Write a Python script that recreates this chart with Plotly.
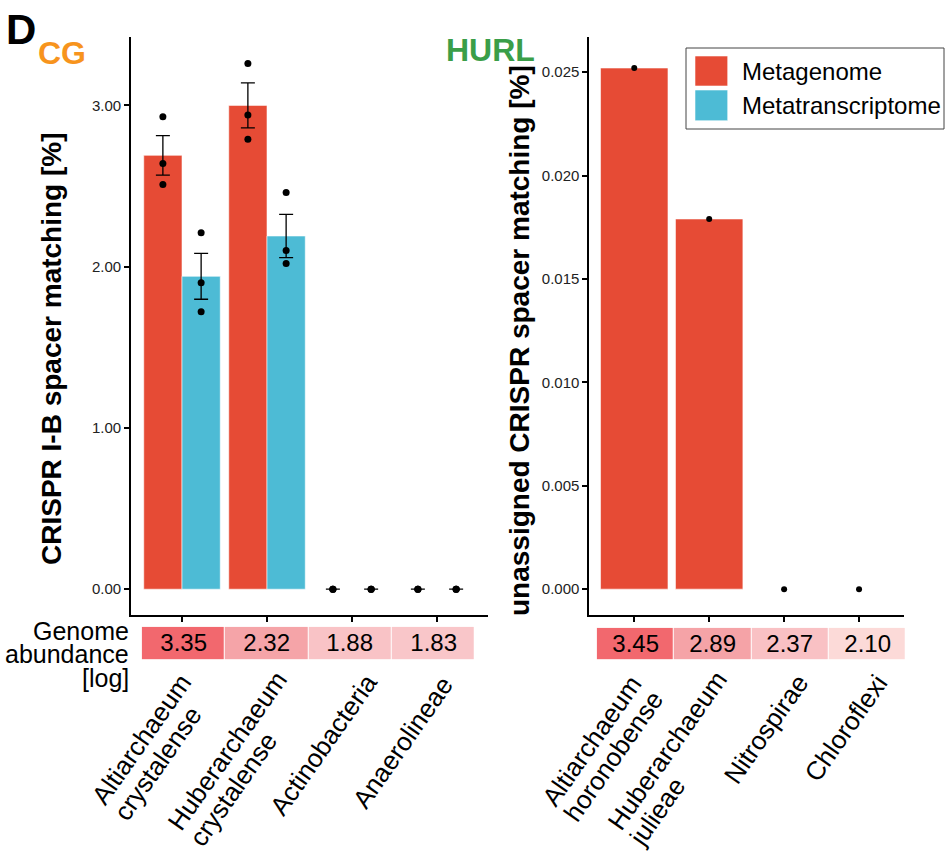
import math
import plotly.graph_objects as go

# ---- data -------------------------------------------------------------
cg_taxa = [["Altiarchaeum", "crystalense"], ["Huberarchaeum", "crystalense"],
           ["Actinobacteria"], ["Anaerolineae"]]
cg_metagenome_mean = [2.69, 3.00, 0.0, 0.0]
cg_metagenome_se = [0.123, 0.139, 0.0, 0.0]
cg_metatranscriptome_mean = [1.94, 2.19, 0.0, 0.0]
cg_metatranscriptome_se = [0.142, 0.134, 0.0, 0.0]
cg_metagenome_reps = [[2.93, 2.64, 2.51], [3.26, 2.94, 2.79], [0.0, 0.0, 0.0], [0.0, 0.0, 0.0]]
cg_metatranscriptome_reps = [[2.21, 1.90, 1.72], [2.46, 2.10, 2.02], [0.0, 0.0, 0.0], [0.0, 0.0, 0.0]]
cg_abundance = [3.35, 2.32, 1.88, 1.83]

hurl_taxa = [["Altiarchaeum", "horonobense"], ["Huberarchaeum", "julieae"],
             ["Nitrospirae"], ["Chloroflexi"]]
hurl_metagenome = [0.0252, 0.0179, 0.0, 0.0]
hurl_abundance = [3.45, 2.89, 2.37, 2.10]

cg_ticks = [0.0, 1.0, 2.0, 3.0]
hurl_ticks = [0.0, 0.005, 0.010, 0.015, 0.020, 0.025]

# ---- style ------------------------------------------------------------
W, H = 951, 852
FONT = "Liberation Sans, Arial, sans-serif"
RED = "#E64B35"
BLUE = "#4DBBD5"
DODGE = 0.225
LABEL_SIZE = 26
LABEL_ANGLE = 55
LINE_STEP = 27
# (horizontal shift from the tick, top in px) of the end of each label's first line
cg_label_anchor = [(-8.5, 669), (1.5, 666), (6.5, 669), (-2, 671)]
hurl_label_anchor = [(-11, 670.5), (-1, 666), (6, 669), (10, 669)]

# Arial advance widths (1/1000 em) for the glyphs used in the taxon labels
GLYPH_W = {"A": 667, "C": 722, "H": 722, "N": 722, "a": 556, "b": 556, "c": 500,
           "e": 556, "f": 278, "h": 556, "i": 222, "j": 222, "l": 222, "m": 833,
           "n": 556, "o": 556, "p": 556, "r": 333, "s": 500, "t": 278, "u": 556,
           "x": 500, "y": 500}


def text_px(s, size):
    return sum(GLYPH_W.get(c, 556) for c in s) * size / 1000


def fx(p):
    return p / W


def fy(p):
    return 1 - p / H


def scale(z, colors):
    lo, hi = min(z), max(z)
    pairs = sorted(zip(z, colors))
    return [[(v - lo) / (hi - lo), c] for v, c in pairs]


idx = list(range(len(cg_taxa)))
hidx = list(range(len(hurl_taxa)))
fig = go.Figure()

# left panel: CG bars with standard errors
bar_edge = dict(color="rgba(255,255,255,0.7)", width=0.8)
fig.add_trace(go.Bar(
    x=idx, y=cg_metagenome_mean, name="Metagenome", marker_color=RED, marker_line=bar_edge,
    error_y=dict(type="data", array=cg_metagenome_se, color="black", thickness=1.3, width=7),
    xaxis="x", yaxis="y"))
fig.add_trace(go.Bar(
    x=idx, y=cg_metatranscriptome_mean, name="Metatranscriptome", marker_color=BLUE,
    marker_line=bar_edge,
    error_y=dict(type="data", array=cg_metatranscriptome_se, color="black", thickness=1.3, width=7),
    xaxis="x", yaxis="y"))

for reps, off in ((cg_metagenome_reps, -DODGE), (cg_metatranscriptome_reps, DODGE)):
    xs, ys = [], []
    for i, r in zip(idx, reps):
        xs += [i + off] * len(r)
        ys += r
    fig.add_trace(go.Scatter(x=xs, y=ys, mode="markers",
                             marker=dict(color="black", size=7),
                             xaxis="x", yaxis="y", showlegend=False))

# right panel: HURL bars
fig.add_trace(go.Bar(
    x=hidx, y=hurl_metagenome, marker_color=RED, marker_line=bar_edge,
    xaxis="x2", yaxis="y2", showlegend=False))
fig.add_trace(go.Scatter(x=hidx, y=hurl_metagenome, mode="markers",
                         marker=dict(color="black", size=6),
                         xaxis="x2", yaxis="y2", showlegend=False))

# genome abundance strips
cg_colors = ["#F2686E", "#F5A4A8", "#F9C3C6", "#F9C6C9"]
hurl_colors = ["#F2686E", "#F5A3A7", "#F9C1C4", "#FCDAD8"]
for xs, z, cols, xa, ya in ((idx, cg_abundance, cg_colors, "x3", "y3"),
                            (hidx, hurl_abundance, hurl_colors, "x4", "y4")):
    fig.add_trace(go.Heatmap(
        x=xs, y=[0], z=[z], colorscale=scale(z, cols), showscale=False, xgap=1,
        texttemplate="%{z:.2f}", textfont=dict(size=24, color="black", family=FONT),
        hoverinfo="skip", xaxis=xa, yaxis=ya))

axis_common = dict(showline=True, linecolor="black", linewidth=1.8, ticks="outside",
                   ticklen=5, tickwidth=1.5, tickcolor="black", showgrid=False, zeroline=False,
                   automargin=False, tickfont=dict(size=15, color="#222", family=FONT))
hidden = dict(visible=False, automargin=False, showgrid=False, zeroline=False)
bar_top, bar_bottom = 37, 615

fig.update_layout(
    width=W, height=H, margin=dict(l=0, r=0, t=0, b=0, autoexpand=False),
    paper_bgcolor="white", plot_bgcolor="white",
    barmode="group", bargap=0.1, bargroupgap=0,
    showlegend=False, font=dict(family=FONT, color="black"),
    xaxis=dict(domain=[fx(131), fx(488)], range=[-0.6, 3.6], tickvals=idx,
               showticklabels=False, anchor="y", **axis_common),
    yaxis=dict(domain=[fy(bar_bottom), fy(bar_top)], range=[-0.16, 3.424],
               tickvals=cg_ticks, tickformat=".2f", anchor="x", **axis_common),
    xaxis2=dict(domain=[fx(589.3), fx(904)], range=[-0.6, 3.6], tickvals=hidx,
                showticklabels=False, anchor="y2", **axis_common),
    yaxis2=dict(domain=[fy(bar_bottom), fy(bar_top)], range=[-0.00125, 0.0267],
                tickvals=hurl_ticks, tickformat=".3f", anchor="x2", **axis_common),
    xaxis3=dict(domain=[fx(141.7), fx(475)], range=[-0.5, 3.5], anchor="y3", **hidden),
    yaxis3=dict(domain=[fy(659.3), fy(626.7)], anchor="x3", **hidden),
    xaxis4=dict(domain=[fx(596.7), fx(906)], range=[-0.5, 3.5], anchor="y4", **hidden),
    yaxis4=dict(domain=[fy(659.3), fy(627.7)], anchor="x4", **hidden),
)

ann = []
# axis titles
ann.append(dict(text="CRISPR I-B spacer matching [%]", x=fx(51), y=fy(349), textangle=-90,
                font=dict(size=28, weight="bold")))
ann.append(dict(text="unassigned CRISPR spacer matching [%]", x=fx(520), y=fy(341),
                textangle=-90, font=dict(size=28, weight="bold")))
# panel tags
ann.append(dict(text="D", x=fx(21), y=fy(30), font=dict(size=42, weight="bold")))
ann.append(dict(text="CG", x=fx(62), y=fy(53), font=dict(size=32, weight="bold", color="#F7941D")))
ann.append(dict(text="HURL", x=fx(490), y=fy(50), font=dict(size=32, weight="bold", color="#3A9E48")))
# strip label
for line, yc in (("Genome", 631), ("abundance", 654), ("[log]", 678)):
    ann.append(dict(text=line, x=fx(131), y=fy(yc), xanchor="right", font=dict(size=25)))
# legend text
ann.append(dict(text="Metagenome", x=fx(740), y=fy(71), xanchor="left", font=dict(size=24)))
ann.append(dict(text="Metatranscriptome", x=fx(740), y=fy(105.5), xanchor="left",
                font=dict(size=24)))

# rotated taxon labels: lines left-aligned, the end of the first line placed
# just under the strip next to the category tick of the bar axis
a = math.radians(LABEL_ANGLE)
ux, uy = math.cos(a), -math.sin(a)      # along the text
vx, vy = math.sin(a), math.cos(a)       # from one line to the next
box_h = 1.117 * LABEL_SIZE
for labels, anchors, xref in ((cg_taxa, cg_label_anchor, "x"),
                              (hurl_taxa, hurl_label_anchor, "x2")):
    for i, (lines, (dx, top)) in enumerate(zip(labels, anchors)):
        first_w = text_px(lines[0], LABEL_SIZE)
        sx, sy = dx - first_w * ux, top - first_w * uy   # start of first line (top corner)
        for k, line in enumerate(lines):
            w = text_px(line, LABEL_SIZE)
            cx = sx + k * LINE_STEP * vx + w / 2 * ux + box_h / 2 * vx
            cy = sy + k * LINE_STEP * vy + w / 2 * uy + box_h / 2 * vy
            ann.append(dict(text=line, x=i, xref=xref, xshift=cx, y=fy(cy),
                            textangle=-LABEL_ANGLE, borderpad=0, borderwidth=0,
                            font=dict(size=LABEL_SIZE)))

for an in ann:
    an.setdefault("xref", "paper")
    an.setdefault("yref", "paper")
    an.setdefault("showarrow", False)
    an.setdefault("xanchor", "center")
    an.setdefault("yanchor", "middle")
    an["font"].setdefault("family", FONT)
    an["font"].setdefault("color", "black")
fig.update_layout(annotations=ann)

# legend box and keys
shapes = [
    dict(type="rect", x0=fx(686), x1=fx(944), y0=fy(129), y1=fy(48),
         line=dict(color="#444", width=1), fillcolor="white"),
    dict(type="rect", x0=fx(695), x1=fx(727.7), y0=fy(86), y1=fy(56),
         line=bar_edge, fillcolor=RED),
    dict(type="rect", x0=fx(695), x1=fx(727.7), y0=fy(120.7), y1=fy(90),
         line=bar_edge, fillcolor=BLUE),
]
for s in shapes:
    s["xref"] = "paper"
    s["yref"] = "paper"
    s["layer"] = "above"
fig.update_layout(shapes=shapes)

fig.write_html("out.html")
